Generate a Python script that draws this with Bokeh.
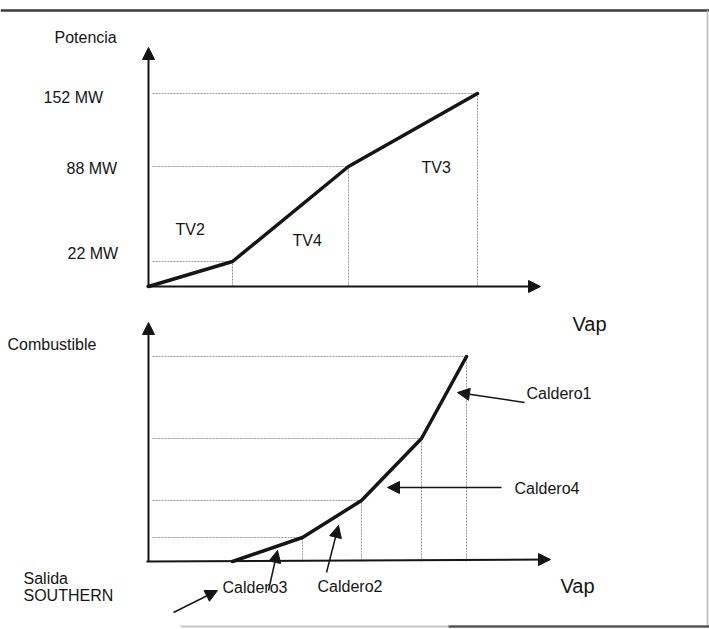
from bokeh.plotting import figure
from bokeh.models import Range1d, Arrow, NormalHead, ColumnDataSource
from bokeh.core.properties import value
from bokeh.embed import file_html
from bokeh.resources import INLINE

# ---------------- data (schematic units) ----------------
# Top panel: Potencia vs Vap (origin at the axis corner)
vap_top = [0, 84, 200, 329]            # breakpoints along Vap
pot_level = [0, 25, 120, 193]          # drawn heights of 0 / 22 / 88 / 152 MW
pot_labels = ["22 MW", "88 MW", "152 MW"]
tv_labels = ["TV2", "TV4", "TV3"]

# Bottom panel: Combustible vs Vap
vap_bot = [84, 154, 213, 273, 318]
comb_level = [0, 24, 61, 123, 205]
caldero_labels = ["Caldero3", "Caldero2", "Caldero4", "Caldero1"]

FONT = value("Liberation Sans")
INK = "#151515"
GUIDE = "#9a9a9a"

p = figure(width=709, height=629, output_backend="svg", toolbar_location=None,
           x_range=Range1d(-148, 561), y_range=Range1d(-343, 286),
           x_axis_type=None, y_axis_type=None, min_border=0,
           outline_line_color=None, background_fill_color="white")
p.extra_y_ranges = {"bot": Range1d(-68, 561)}
p.grid.visible = False

# ---------------- frame ----------------
p.segment(x0=[-148], y0=[276], x1=[561], y1=[276], line_color="#3c3c3c", line_width=2.5)
p.segment(x0=[559], y0=[276], x1=[559], y1=[-340], line_color="#b8b8b8", line_width=1.5)
p.segment(x0=[32], y0=[-340], x1=[300], y1=[-340], line_color="#c8c8c8", line_width=2)
p.segment(x0=[300], y0=[-340], x1=[561], y1=[-340], line_color="#555555", line_width=2.5)

# ---------------- top panel ----------------
# guides
p.segment(x0=[4] * 3, y0=pot_level[1:], x1=vap_top[1:], y1=pot_level[1:],
          line_color=GUIDE, line_width=1, line_dash="2 1")
p.segment(x0=vap_top[1:], y0=[0] * 3, x1=vap_top[1:], y1=pot_level[1:],
          line_color=GUIDE, line_width=1, line_dash="2 1")
# axes
p.add_layout(Arrow(x_start=0, y_start=0, x_end=0, y_end=239, line_width=2, line_color=INK,
                   end=NormalHead(size=12, fill_color=INK, line_color=INK)))
p.add_layout(Arrow(x_start=-2, y_start=0, x_end=392, y_end=0, line_width=2, line_color=INK,
                   end=NormalHead(size=12, fill_color=INK, line_color=INK)))
# curve
p.line(vap_top, pot_level, line_color=INK, line_width=3.5, line_cap="round")

top_text = ColumnDataSource(dict(
    x=[-94, -105, -82, -81, 27, 144, 273],
    y=[249, 193 - 4, 120 - 2, 25 + 8, 57, 46, 119],
    t=["Potencia", pot_labels[2], pot_labels[1], pot_labels[0]] + tv_labels))
p.text(x="x", y="y", text="t", source=top_text, text_font=FONT, text_font_size=value("16px"),
       text_baseline="middle", text_align="left", text_color=INK)
p.text(x=[424], y=[-37], text=["Vap"], text_font=FONT, text_font_size=value("20px"),
       text_baseline="middle", text_align="left", text_color=INK)

# ---------------- bottom panel ----------------
p.segment(x0=[4] * 4, y0=comb_level[1:], x1=vap_bot[1:], y1=comb_level[1:],
          line_color=GUIDE, line_width=1, line_dash="2 1", y_range_name="bot")
p.segment(x0=vap_bot[1:], y0=[0] * 4, x1=vap_bot[1:], y1=comb_level[1:],
          line_color=GUIDE, line_width=1, line_dash="2 1", y_range_name="bot")
p.add_layout(Arrow(x_start=0, y_start=0, x_end=0, y_end=239, line_width=2, line_color=INK,
                   y_range_name="bot", end=NormalHead(size=12, fill_color=INK, line_color=INK)))
p.add_layout(Arrow(x_start=-2, y_start=0, x_end=402, y_end=2, line_width=2, line_color=INK,
                   y_range_name="bot", end=NormalHead(size=12, fill_color=INK, line_color=INK)))
p.line(vap_bot, comb_level, line_color=INK, line_width=3.5, line_cap="round", y_range_name="bot")

# pointer arrows (Caldero3, Caldero2, Caldero4, Caldero1, Salida)
ptr = ColumnDataSource(dict(
    xs=[120, 178, 353, 376, 25],
    ys=[-29, -11, 74, 159, -51],
    xe=[129, 190, 239, 309, 69],
    ye=[11, 36, 74, 169, -29]))
p.add_layout(Arrow(x_start="xs", y_start="ys", x_end="xe", y_end="ye", source=ptr,
                   line_width=1.5, line_color=INK, y_range_name="bot",
                   end=NormalHead(size=12, fill_color=INK, line_color=INK)))

bot_text = ColumnDataSource(dict(
    x=[-141, 74, 169, 366, 378, -125, -125],
    y=[217, -26, -25, 73, 168, -17, -34],
    t=["Combustible"] + caldero_labels + ["Salida", "SOUTHERN"]))
p.text(x="x", y="y", text="t", source=bot_text, text_font=FONT, text_font_size=value("16px"),
       text_baseline="middle", text_align="left", text_color=INK, y_range_name="bot")
p.text(x=[412], y=[-24], text=["Vap"], text_font=FONT, text_font_size=value("20px"),
       text_baseline="middle", text_align="left", text_color=INK, y_range_name="bot")

open("out.html", "w").write(file_html(p, INLINE))
